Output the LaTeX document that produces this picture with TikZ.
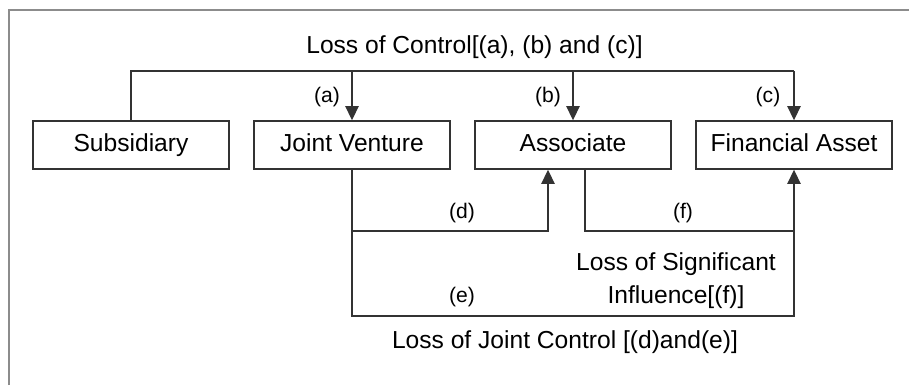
\documentclass[tikz,border=0pt]{standalone}
\usepackage{fontspec}
\setmainfont{Liberation Sans}
\usetikzlibrary{arrows.meta}
\begin{document}
\begin{tikzpicture}[
  font=\fontsize{14}{17}\selectfont,
  entity/.style={draw=black!80,line width=0.8pt,minimum width=3.92cm,minimum height=0.96cm,inner sep=0pt,text height=1.7ex,text depth=0.2ex},
  link/.style={draw=black!80,line width=0.8pt},
  flow/.style={link,-{Triangle[length=8pt,width=7.5pt]}},
  tag/.style={font=\fontsize{12}{14}\selectfont,inner sep=0pt}
]
  \useasboundingbox (0,0) rectangle (18.18,7.70);
  \draw[black!45,line width=1.2pt] (0.18,0) -- (0.18,7.5) -- (18.18,7.5);
  \node[entity] (sub) at (2.62,4.8) {Subsidiary};
  \node[entity] (jv) at (7.04,4.8) {Joint Venture};
  \node[entity] (assoc) at (11.46,4.8) {Associate};
  \node[entity] (fin) at (15.88,4.8) {Financial Asset};
  \node (loc) at (9.49,6.76) {Loss of Control[(a), (b) and (c)]};
  \coordinate (top) at (0,6.28);
  \coordinate (mid) at (0,3.08);
  \coordinate (low) at (0,1.38);
  \coordinate (ain) at ([xshift=-0.5cm]assoc.south);
  \coordinate (aout) at ([xshift=0.24cm]assoc.south);
  \draw[link] (sub.north) -- (sub.north |- top) -- (fin.north |- top);
  \draw[flow] (jv.north |- top) -- (jv.north);
  \draw[flow] (assoc.north |- top) -- (assoc.north);
  \draw[flow] (fin.north |- top) -- (fin.north);
  \draw[link] (jv.south) -- (jv.south |- low) -- (fin.south |- low) -- (fin.south |- mid);
  \draw[flow] (jv.south |- mid) -- (ain |- mid) -- (ain);
  \draw[flow] (aout) -- (aout |- mid) -- (fin.south |- mid) -- (fin.south);
  \node[tag] (la) at (6.54,5.76) {(a)};
  \node[tag] (lb) at (10.96,5.76) {(b)};
  \node[tag] (lc) at (15.36,5.76) {(c)};
  \node[tag] (ld) at (9.24,3.44) {(d)};
  \node[tag] (lf) at (13.66,3.44) {(f)};
  \node[tag] (le) at (9.24,1.76) {(e)};
  \node[align=center,inner sep=0pt] (lsi) at (13.52,2.09) {Loss of Significant\\[2pt]Influence[(f)]};
  \node (ljc) at (11.3,0.86) {Loss of Joint Control [(d)and(e)]};
\end{tikzpicture}
\end{document}
